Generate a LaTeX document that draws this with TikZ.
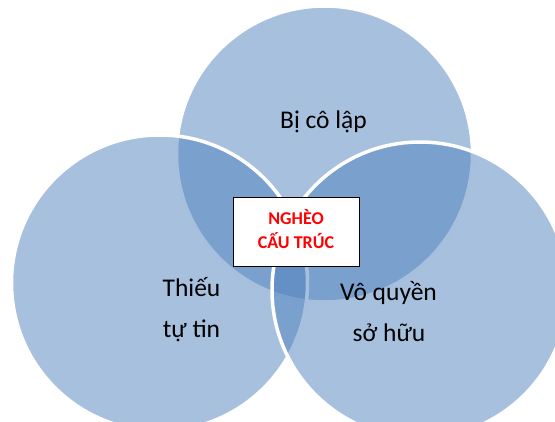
\documentclass[tikz,border=0pt]{standalone}
\usepackage{fontspec}
\setmainfont{Carlito}
\definecolor{venn}{HTML}{4F81BD}
\definecolor{redtxt}{HTML}{FF0000}
\tikzset{
  vcircle/.style={circle, fill=venn, fill opacity=0.5, draw=white, line width=3.5pt, minimum size=296pt, inner sep=0pt},
  vlabel/.style={anchor=base, font=\fontsize{25.5}{30}\selectfont, text=black},
  boxlabel/.style={anchor=base, font=\fontsize{18}{22}\selectfont\bfseries, text=redtxt},
  centerbox/.style={rectangle, fill=white, draw=black, line width=1pt, minimum width=126pt, minimum height=69pt, inner sep=0pt}
}
\begin{document}
\begin{tikzpicture}[x=1pt, y=-1pt]
\path[use as bounding box] (0,0) rectangle (555,421);
\clip (0,0) rectangle (555,421);
\node[vcircle] (top) at (324.5,154) {};
\node[vcircle] (left) at (159.5,283) {};
\node[vcircle] (right) at (420,290) {};
\node[centerbox] (box) at (296,231.5) {};
\node[boxlabel] (b1) at (296,224.3) {NGHÈO};
\node[boxlabel] (b2) at (296,248.3) {CẤU TRÚC};
\node[vlabel] (t1) at (323.5,128) {Bị cô lập};
\node[vlabel] (l1) at (191.5,296.7) {Thiếu};
\node[vlabel] (l2) at (191.5,337.3) {tự tin};
\node[vlabel] (r1) at (388.5,300) {Vô quyền};
\node[vlabel] (r2) at (389,341) {sở hữu};
\end{tikzpicture}
\end{document}
